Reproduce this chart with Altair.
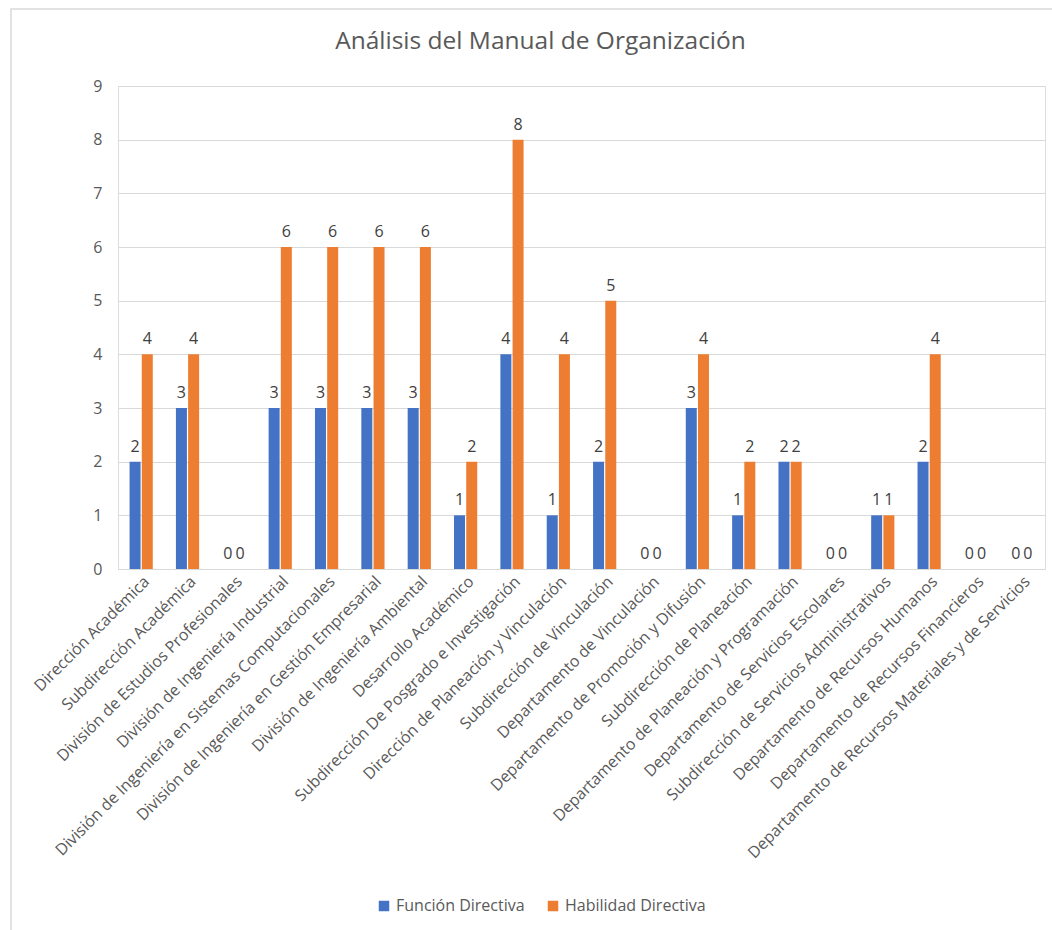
import altair as alt
import pandas as pd

# Organizational units analysed in the manual
units = [
    "Dirección Académica",
    "Subdirección Académica",
    "División de Estudios Profesionales",
    "División de Ingeniería Industrial",
    "División de Ingeniería en Sistemas Computacionales",
    "División de Ingeniería en Gestión Empresarial",
    "División de Ingeniería Ambiental",
    "Desarrollo Académico",
    "Subdirección De Posgrado e Investigación",
    "Dirección de Planeación y Vinculación",
    "Subdirección de Vinculación",
    "Departamento de Vinculación",
    "Departamento de Promoción y Difusión",
    "Subdirección de Planeación",
    "Departamento de Planeación y Programación",
    "Departamento de Servicios Escolares",
    "Subdirección de Servicios Administrativos",
    "Departamento de Recursos Humanos",
    "Departamento de Recursos Financieros",
    "Departamento de Recursos Materiales y de Servicios",
]

funcion_directiva = [2, 3, 0, 3, 3, 3, 3, 1, 4, 1, 2, 0, 3, 1, 2, 0, 1, 2, 0, 0]
habilidad_directiva = [4, 4, 0, 6, 6, 6, 6, 2, 8, 4, 5, 0, 4, 2, 2, 0, 1, 4, 0, 0]

series_names = ["Función Directiva", "Habilidad Directiva"]
series_colors = ["#4472C4", "#ED7D31"]

rows = []
for unit, f, h in zip(units, funcion_directiva, habilidad_directiva):
    rows.append({"unidad": unit, "serie": series_names[0], "valor": f})
    rows.append({"unidad": unit, "serie": series_names[1], "valor": h})
df = pd.DataFrame(rows)

FONT = "Open Sans"
GRAY = "#595959"

x_enc = alt.X(
    "unidad:N",
    sort=units,
    title=None,
    scale=alt.Scale(paddingInner=0.5, paddingOuter=0.25),
    axis=alt.Axis(
        labelAngle=-45,
        labelFont=FONT,
        labelFontSize=16,
        labelColor=GRAY,
        labelPadding=4,
        ticks=False,
        domain=True,
        domainColor="#d9d9d9",
        labelLimit=600,
        labelOverlap=False,
    ),
)
xoff_enc = alt.XOffset("serie:N", sort=series_names, scale=alt.Scale(paddingInner=0.1))
y_enc = alt.Y(
    "valor:Q",
    title=None,
    scale=alt.Scale(domain=[0, 9], nice=False),
    axis=alt.Axis(
        values=list(range(10)),
        labelFont=FONT,
        labelFontSize=16,
        labelColor=GRAY,
        labelPadding=16,
        ticks=False,
        domain=False,
        gridColor="#d9d9d9",
        gridWidth=1.2,
    ),
)
color_enc = alt.Color(
    "serie:N",
    sort=series_names,
    scale=alt.Scale(domain=series_names, range=series_colors),
    legend=alt.Legend(
        title=None,
        orient="none",
        direction="horizontal",
        legendX=258,
        legendY=812,
        symbolType="square",
        symbolSize=110,
        symbolStrokeWidth=0,
        labelFont=FONT,
        labelFontSize=16,
        labelColor=GRAY,
        columnPadding=20,
        labelOffset=4,
    ),
)

bars = alt.Chart(df).mark_bar(size=11).encode(
    x=x_enc, xOffset=xoff_enc, y=y_enc, color=color_enc
)

labels = alt.Chart(df).mark_text(
    baseline="bottom", dy=-7, font=FONT, fontSize=16, color="#404040"
).encode(x=x_enc, xOffset=xoff_enc, y=y_enc, text="valor:Q")

# thin frame around the whole chart area (top and left edges fall inside the page)
frame = alt.Chart(pd.DataFrame({"k": [0]})).mark_rect(
    fill=None, stroke="#d9d9d9", strokeWidth=1.5
).encode(
    x=alt.value(-107), x2=alt.value(960), y=alt.value(-77), y2=alt.value(900)
)

chart = (
    alt.layer(frame, bars, labels)
    .properties(
        width=927,
        height=483,
        padding={"left": 118, "top": 86, "right": 7, "bottom": 361},
        autosize=alt.AutoSizeParams(type="none"),
        title=alt.TitleParams(
            "Análisis del Manual de Organización",
            font=FONT,
            fontSize=24.5,
            fontWeight="normal",
            color=GRAY,
            dx=-41,
            offset=-46,
            anchor="middle",
        ),
    )
    .configure_view(stroke=None)
    .configure(background="white")
)

chart.save("out.html", embed_options={"renderer": "svg", "actions": False})
